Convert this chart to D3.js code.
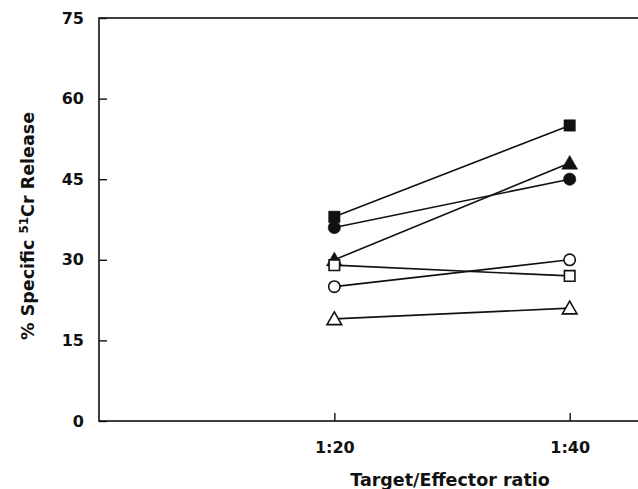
<!DOCTYPE html>
<html>
<head>
<meta charset="utf-8">
<script src="https://cdn.jsdelivr.net/npm/d3@7"></script>
<style>
  body { margin: 0; background: #fff; }
  svg { display: block; }
  text { font-family: "DejaVu Sans", Arial, sans-serif; font-weight: bold; fill: #111; }
</style>
</head>
<body>
<svg id="chart"></svg>
<script>
const ratios = ['1:20', '1:40']
const yTicks = [0, 15, 30, 45, 60, 75]

// one line per effector group, values at 1:20 and 1:40
const filledSquare = [38, 55]
const filledTriangle = [30, 48]
const filledCircle = [36, 45]
const openCircle = [25, 30]
const openSquare = [29, 27]
const openTriangle = [19, 21]

const series = [
	{ shape: 'square', filled: true, values: filledSquare },
	{ shape: 'triangle', filled: true, values: filledTriangle },
	{ shape: 'circle', filled: true, values: filledCircle },
	{ shape: 'circle', filled: false, values: openCircle },
	{ shape: 'square', filled: false, values: openSquare },
	{ shape: 'triangle', filled: false, values: openTriangle },
]

const outerWidth = 638
const outerHeight = 489
const margin = { top: 18, left: 99, bottom: 68 }
const plotRight = 805
const font = '"DejaVu Sans", Arial, sans-serif'

const svg = d3.select('#chart')
	.attr('width', outerWidth)
	.attr('height', outerHeight)

const xScale = d3.scalePoint()
	.domain(['', ...ratios, ' '])
	.range([margin.left, plotRight])
const yScale = d3.scaleLinear()
	.domain([0, 75])
	.range([outerHeight - margin.bottom, margin.top])

const ink = '#111'

// frame (runs off the right edge like the original)
svg.append('rect')
	.attr('x', margin.left)
	.attr('y', yScale(75))
	.attr('width', plotRight - margin.left)
	.attr('height', yScale(0) - yScale(75))
	.attr('fill', 'none')
	.attr('stroke', ink)
	.attr('stroke-width', 1.6)

const yAxis = d3.axisLeft(yScale)
	.tickValues(yTicks)
	.tickSizeInner(-8)
	.tickSizeOuter(0)
	.tickPadding(15)
const yAxisGroup = svg.append('g')
	.attr('transform', `translate(${margin.left},0)`)
	.call(yAxis)
yAxisGroup.select('.domain').remove()
yAxisGroup.selectAll('line').attr('stroke', ink).attr('stroke-width', 1.4)
yAxisGroup.selectAll('text')
	.attr('font-size', 16)
	.attr('font-family', font)
	.attr('font-weight', 'bold')
	.attr('fill', ink)

const xAxis = d3.axisBottom(xScale)
	.tickValues(ratios)
	.tickSizeInner(-8)
	.tickSizeOuter(0)
	.tickPadding(21)
const xAxisGroup = svg.append('g')
	.attr('transform', `translate(0,${yScale(0)})`)
	.call(xAxis)
xAxisGroup.select('.domain').remove()
xAxisGroup.selectAll('line').attr('stroke', ink).attr('stroke-width', 1.4)
xAxisGroup.selectAll('text')
	.attr('font-size', 16)
	.attr('font-family', font)
	.attr('font-weight', 'bold')
	.attr('fill', ink)

// axis titles
svg.append('text')
	.attr('x', 450)
	.attr('y', 486)
	.attr('text-anchor', 'middle')
	.attr('font-size', 17.5)
	.text('Target/Effector ratio')

const yTitle = svg.append('text')
	.attr('transform', 'translate(34,226) rotate(-90)')
	.attr('text-anchor', 'middle')
	.attr('font-size', 17.5)
yTitle.append('tspan').text('% Specific  ')
yTitle.append('tspan').attr('font-size', 12).attr('dy', -6).text('51')
yTitle.append('tspan').attr('dy', 6).text('Cr Release')

// lines
const line = d3.line()
	.x((d, i) => xScale(ratios[i]))
	.y(d => yScale(d))

svg.append('g').selectAll('path')
	.data(series)
	.join('path')
	.attr('d', d => line(d.values))
	.attr('fill', 'none')
	.attr('stroke', ink)
	.attr('stroke-width', 1.6)

// markers
const symbolType = { square: d3.symbolSquare, circle: d3.symbolCircle, triangle: d3.symbolTriangle }
const symbolSize = { square: 130, circle: 120, triangle: 110 }

const points = series.flatMap(s => s.values.map((v, i) => ({ ...s, ratio: ratios[i], value: v })))

svg.append('g').selectAll('path')
	.data(points)
	.join('path')
	.attr('transform', d => `translate(${xScale(d.ratio)},${yScale(d.value) + (d.shape === 'triangle' ? 1.5 : 0)})`)
	.attr('d', d => d3.symbol(symbolType[d.shape], d.filled ? symbolSize[d.shape] : symbolSize[d.shape] * 0.85)())
	.attr('fill', d => d.filled ? ink : '#fff')
	.attr('stroke', ink)
	.attr('stroke-width', d => d.filled ? 0.5 : 1.6)
</script>
</body>
</html>
